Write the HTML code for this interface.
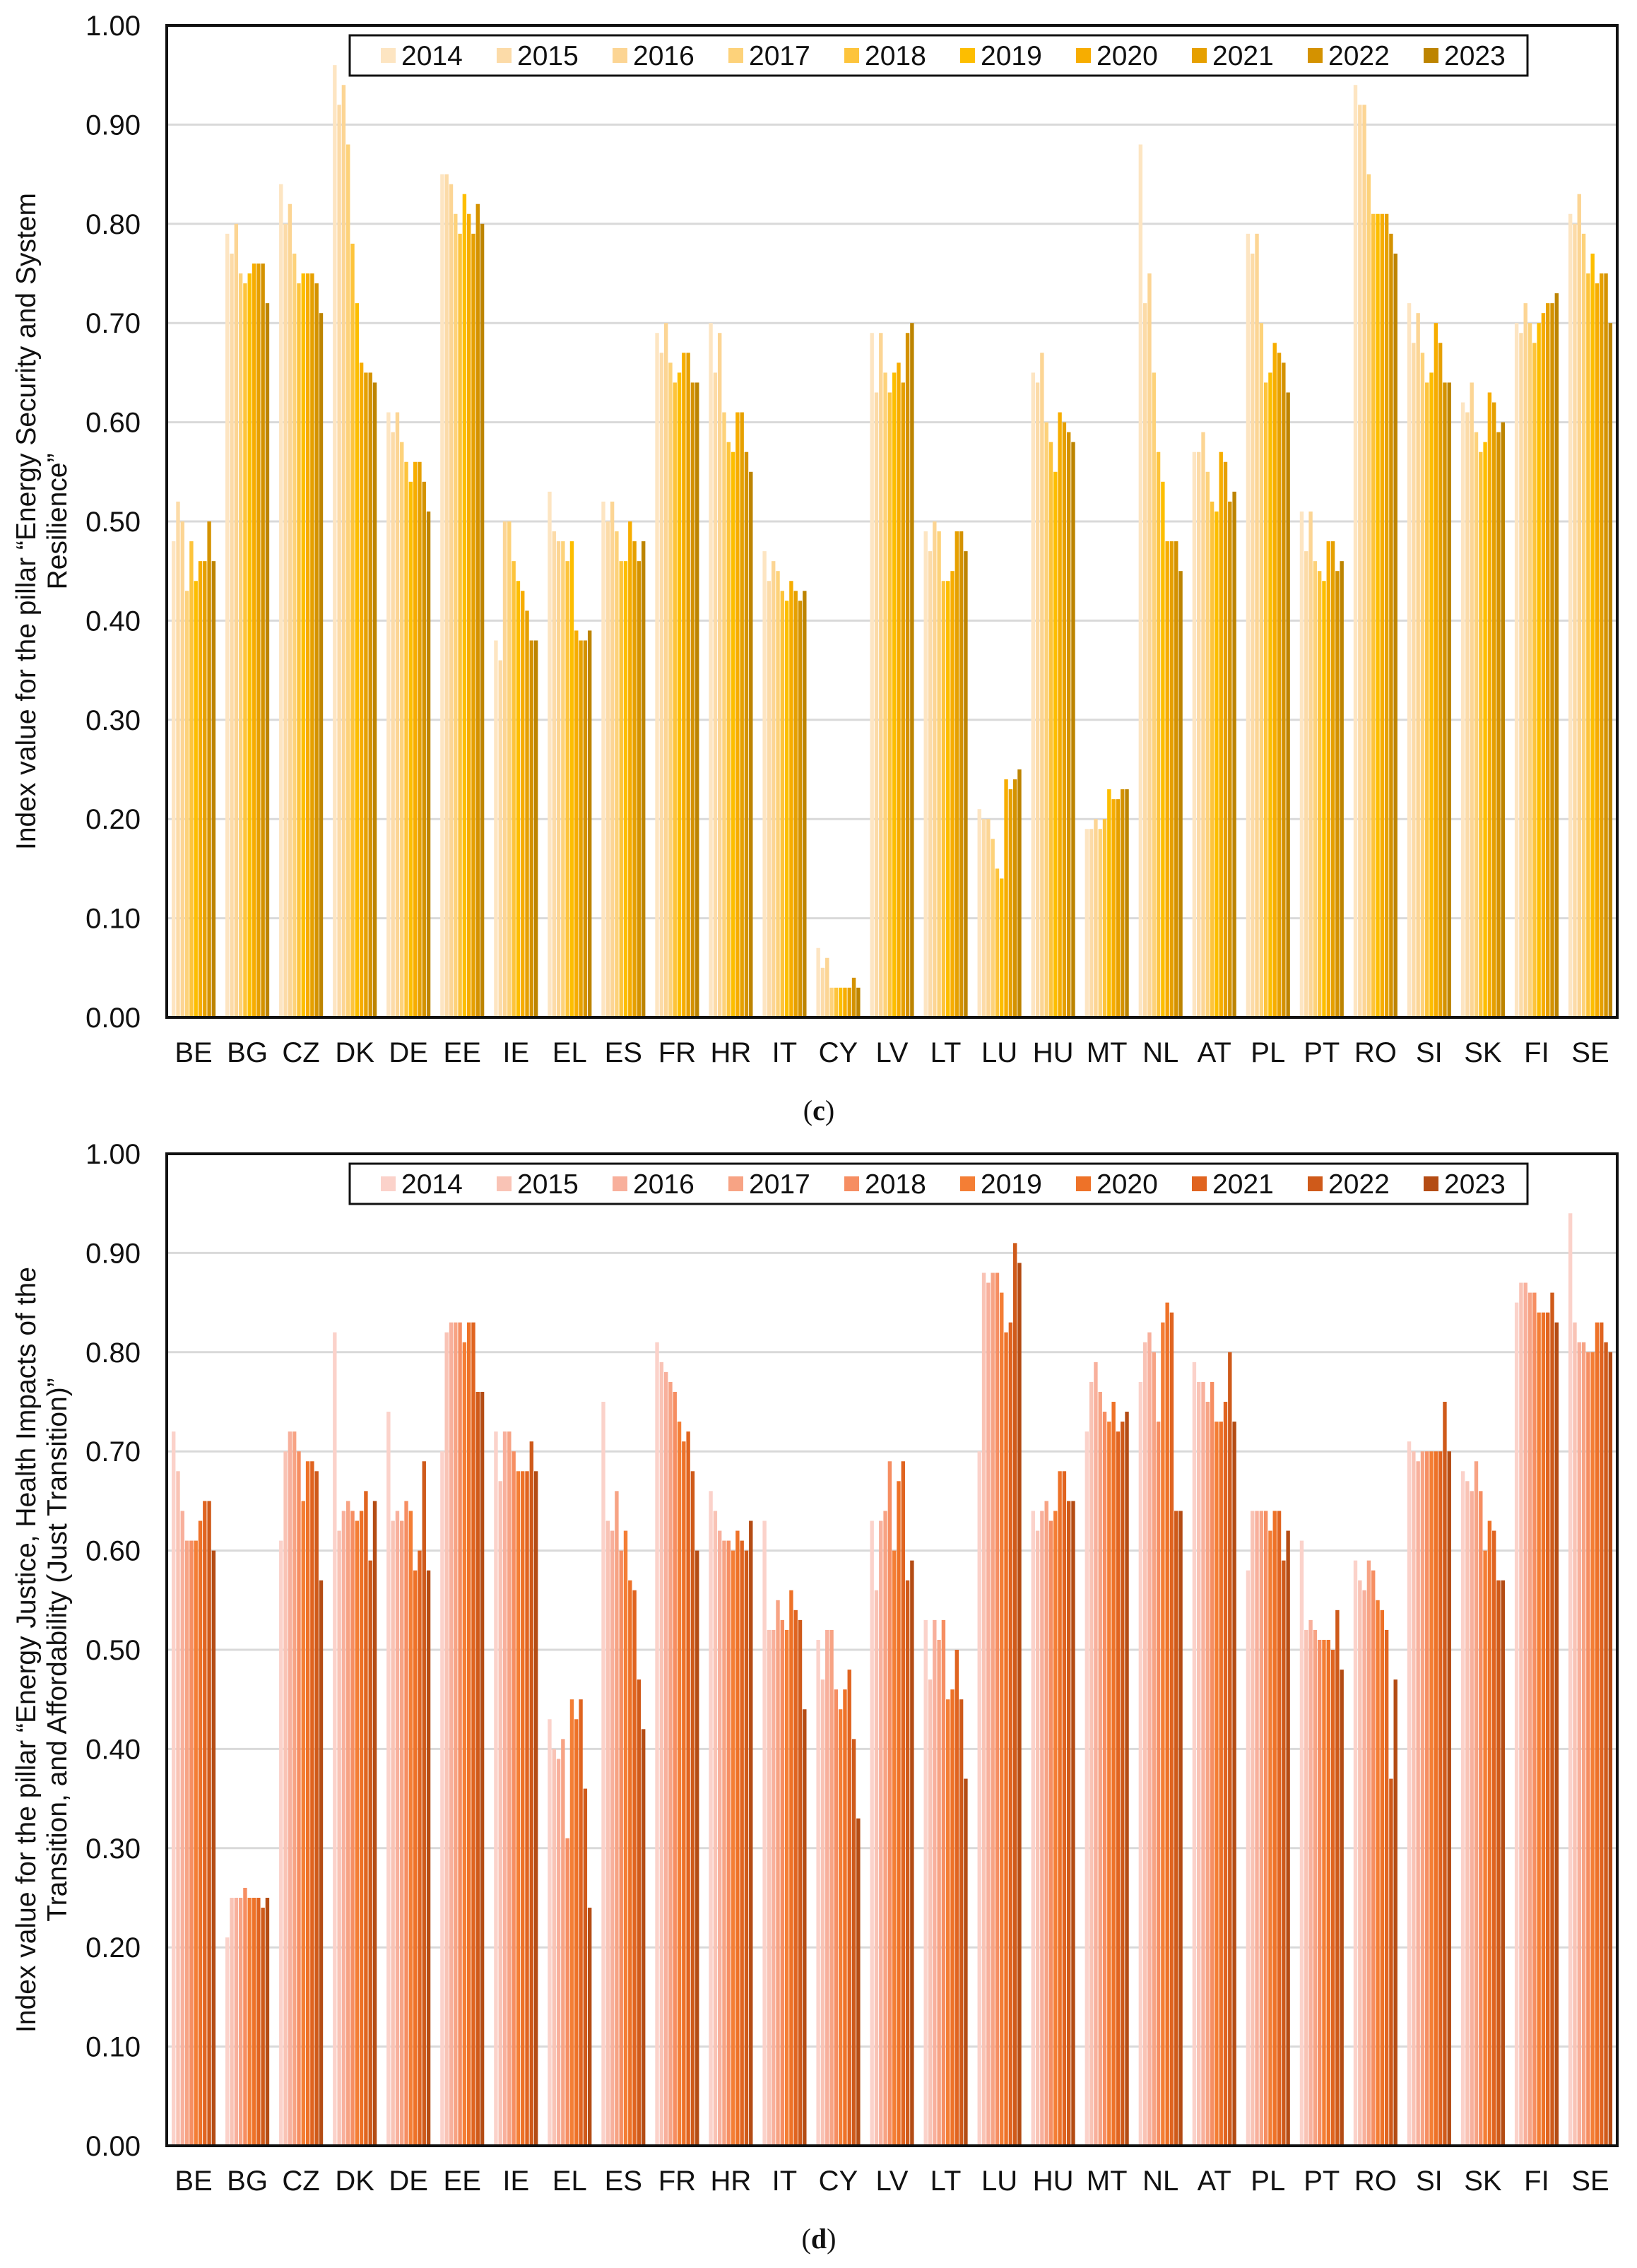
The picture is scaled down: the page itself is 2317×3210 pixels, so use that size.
<!DOCTYPE html>
<html><head><meta charset="utf-8"><style>
html,body{margin:0;padding:0;background:#fff;}
svg{display:block;font-family:"Liberation Sans",Arial,sans-serif;}
</style></head>
<body>
<svg id="fig" width="2317" height="3210" viewBox="0 0 2317 3210" xmlns="http://www.w3.org/2000/svg"></svg>
<script>
const countries = ["BE","BG","CZ","DK","DE","EE","IE","EL","ES","FR","HR","IT","CY","LV","LT","LU","HU","MT","NL","AT","PL","PT","RO","SI","SK","FI","SE"];
const years = ["2014","2015","2016","2017","2018","2019","2020","2021","2022","2023"];
const yTicks = ["0.00","0.10","0.20","0.30","0.40","0.50","0.60","0.70","0.80","0.90","1.00"];
const colorsC = ["#fde5c2","#fcdba8","#fcd594","#fdd27a","#fdc43c","#fdbe00","#f7ad00","#e6a000","#d49200","#bd8400"];
const colorsD = ["#fbd2ca","#f9c3b5","#f8b09c","#f7a384","#f68e62","#f47e35","#ee7228","#e06420","#cf5a1a","#b44c14"];
const valuesC = [
[0.48,0.52,0.50,0.43,0.48,0.44,0.46,0.46,0.50,0.46],
[0.79,0.77,0.80,0.75,0.74,0.75,0.76,0.76,0.76,0.72],
[0.84,0.80,0.82,0.77,0.74,0.75,0.75,0.75,0.74,0.71],
[0.96,0.92,0.94,0.88,0.78,0.72,0.66,0.65,0.65,0.64],
[0.61,0.59,0.61,0.58,0.56,0.54,0.56,0.56,0.54,0.51],
[0.85,0.85,0.84,0.81,0.79,0.83,0.81,0.79,0.82,0.80],
[0.38,0.36,0.50,0.50,0.46,0.44,0.43,0.41,0.38,0.38],
[0.53,0.49,0.48,0.48,0.46,0.48,0.39,0.38,0.38,0.39],
[0.52,0.50,0.52,0.49,0.46,0.46,0.50,0.48,0.46,0.48],
[0.69,0.67,0.70,0.66,0.64,0.65,0.67,0.67,0.64,0.64],
[0.70,0.65,0.69,0.61,0.58,0.57,0.61,0.61,0.57,0.55],
[0.47,0.44,0.46,0.45,0.43,0.42,0.44,0.43,0.42,0.43],
[0.07,0.05,0.06,0.03,0.03,0.03,0.03,0.03,0.04,0.03],
[0.69,0.63,0.69,0.65,0.63,0.65,0.66,0.64,0.69,0.70],
[0.49,0.47,0.50,0.49,0.44,0.44,0.45,0.49,0.49,0.47],
[0.21,0.20,0.20,0.18,0.15,0.14,0.24,0.23,0.24,0.25],
[0.65,0.64,0.67,0.60,0.58,0.55,0.61,0.60,0.59,0.58],
[0.19,0.19,0.20,0.19,0.20,0.23,0.22,0.22,0.23,0.23],
[0.88,0.72,0.75,0.65,0.57,0.54,0.48,0.48,0.48,0.45],
[0.57,0.57,0.59,0.55,0.52,0.51,0.57,0.56,0.52,0.53],
[0.79,0.77,0.79,0.70,0.64,0.65,0.68,0.67,0.66,0.63],
[0.51,0.47,0.51,0.46,0.45,0.44,0.48,0.48,0.45,0.46],
[0.94,0.92,0.92,0.85,0.81,0.81,0.81,0.81,0.79,0.77],
[0.72,0.68,0.71,0.67,0.64,0.65,0.70,0.68,0.64,0.64],
[0.62,0.61,0.64,0.59,0.57,0.58,0.63,0.62,0.59,0.60],
[0.70,0.69,0.72,0.70,0.68,0.70,0.71,0.72,0.72,0.73],
[0.81,0.80,0.83,0.79,0.75,0.77,0.74,0.75,0.75,0.70]
];
const valuesD = [
[0.72,0.68,0.64,0.61,0.61,0.61,0.63,0.65,0.65,0.60],
[0.21,0.25,0.25,0.25,0.26,0.25,0.25,0.25,0.24,0.25],
[0.61,0.70,0.72,0.72,0.70,0.65,0.69,0.69,0.68,0.57],
[0.82,0.62,0.64,0.65,0.64,0.63,0.64,0.66,0.59,0.65],
[0.74,0.63,0.64,0.63,0.65,0.64,0.58,0.60,0.69,0.58],
[0.70,0.82,0.83,0.83,0.83,0.81,0.83,0.83,0.76,0.76],
[0.72,0.67,0.72,0.72,0.70,0.68,0.68,0.68,0.71,0.68],
[0.43,0.40,0.39,0.41,0.31,0.45,0.43,0.45,0.36,0.24],
[0.75,0.63,0.62,0.66,0.60,0.62,0.57,0.56,0.47,0.42],
[0.81,0.79,0.78,0.77,0.76,0.73,0.71,0.72,0.68,0.60],
[0.66,0.64,0.62,0.61,0.61,0.60,0.62,0.61,0.60,0.63],
[0.63,0.52,0.52,0.55,0.53,0.52,0.56,0.54,0.53,0.44],
[0.51,0.47,0.52,0.52,0.46,0.44,0.46,0.48,0.41,0.33],
[0.63,0.56,0.63,0.64,0.69,0.60,0.67,0.69,0.57,0.59],
[0.53,0.47,0.53,0.51,0.53,0.45,0.46,0.50,0.45,0.37],
[0.70,0.88,0.87,0.88,0.88,0.86,0.82,0.83,0.91,0.89],
[0.64,0.62,0.64,0.65,0.63,0.64,0.68,0.68,0.65,0.65],
[0.72,0.77,0.79,0.76,0.74,0.73,0.75,0.72,0.73,0.74],
[0.77,0.81,0.82,0.80,0.73,0.83,0.85,0.84,0.64,0.64],
[0.79,0.77,0.77,0.75,0.77,0.73,0.73,0.75,0.80,0.73],
[0.58,0.64,0.64,0.64,0.64,0.62,0.64,0.64,0.59,0.62],
[0.61,0.52,0.53,0.52,0.51,0.51,0.51,0.50,0.54,0.48],
[0.59,0.57,0.56,0.59,0.58,0.55,0.54,0.52,0.37,0.47],
[0.71,0.70,0.69,0.70,0.70,0.70,0.70,0.70,0.75,0.70],
[0.68,0.67,0.66,0.69,0.66,0.60,0.63,0.62,0.57,0.57],
[0.85,0.87,0.87,0.86,0.86,0.84,0.84,0.84,0.86,0.83],
[0.94,0.83,0.81,0.81,0.80,0.80,0.83,0.83,0.81,0.80]
];

const NS = "http://www.w3.org/2000/svg";
const svg = document.getElementById("fig");
function mk(tag, attrs, parent, text) {
  const e = document.createElementNS(NS, tag);
  for (const k in attrs) e.setAttribute(k, attrs[k]);
  if (text !== undefined) e.textContent = text;
  (parent || svg).appendChild(e);
  return e;
}

function drawChart(opt) {
  const g = mk("g", {});
  
  
  const L = 236, R = 2289, T = opt.top, B = opt.top + 1404;
  const cat = (R - L) / countries.length;
  const stride = 6.3, bw = 5.4, off = 7;
  const y = v => B - v * (B - T);
  const x = (i, j) => L + i * cat + off + j * stride;

  // gridlines
  yTicks.forEach((t, k) => {
    const v = parseFloat(t);
    if (k > 0 && k < yTicks.length - 1) {
      const gl = mk("line", {x1: L, x2: R, y1: y(v), y2: y(v), stroke: "#d9d9d9", "stroke-width": 3}, g);
      
      
    }
    const tl = mk("text", {x: 199, y: y(v) + 14, "text-anchor": "end", "font-size": 40, fill: "#111"}, g, t);
    
    
  });

  // bars
  opt.values.forEach((row, i) => {
    row.forEach((v, j) => {
      const r = mk("rect", {x: x(i, j), y: y(v), width: bw, height: B - y(v), fill: opt.colors[j]}, g);
      
      
    });
    const cl = mk("text", {x: L + (i + 0.5) * cat, y: B + 63, "text-anchor": "middle", "font-size": 40, fill: "#111"}, g, countries[i]);
    
    
  });

  // frame
  const fr = mk("rect", {x: L, y: T, width: R - L, height: B - T, fill: "none", stroke: "#111", "stroke-width": 4}, g);
  
  

  // legend
  const lg = mk("g", {}, g);
  
  
  mk("rect", {x: 495, y: T + 14, width: 1667, height: 57, fill: "#fff", stroke: "#111", "stroke-width": 3}, lg);
  years.forEach((yr, j) => {
    const sx = 539 + j * 164;
    const sw = mk("rect", {x: sx, y: T + 32, width: 21, height: 21, fill: opt.colors[j]}, lg);
    
    
    const lt = mk("text", {x: sx + 29, y: T + 56, "font-size": 39, fill: "#111"}, lg, yr);
    
    
  });

  // y axis title
  const cy = (T + B) / 2;
  const yt = mk("text", {transform: "translate(0," + cy + ") rotate(-90)", "text-anchor": "middle", "font-size": 39, fill: "#111"}, g);
  
  
  opt.title.forEach((ln, k) => {
    mk("tspan", {x: 0, y: 50 + k * 44}, yt, ln);
  });

  // caption
  const cap = mk("text", {x: 1159, y: opt.capY, "text-anchor": "middle", "font-size": 40, fill: "#111", "font-family": "Liberation Serif, serif"}, g);
  
  
  mk("tspan", {}, cap, "(");
  mk("tspan", {"font-weight": "bold"}, cap, opt.letter);
  mk("tspan", {}, cap, ")");
}

drawChart({name: "chart-energy-security", top: 36, values: valuesC, colors: colorsC,
  title: ["Index value for the pillar \u201cEnergy Security and System", "Resilience\u201d"], capY: 1585, letter: "c"});
drawChart({name: "chart-just-transition", top: 1633, values: valuesD, colors: colorsD,
  title: ["Index value for the pillar \u201cEnergy Justice, Health Impacts of the", "Transition, and Affordability (Just Transition)\u201d"], capY: 3182, letter: "d"});
</script>
</body></html>
